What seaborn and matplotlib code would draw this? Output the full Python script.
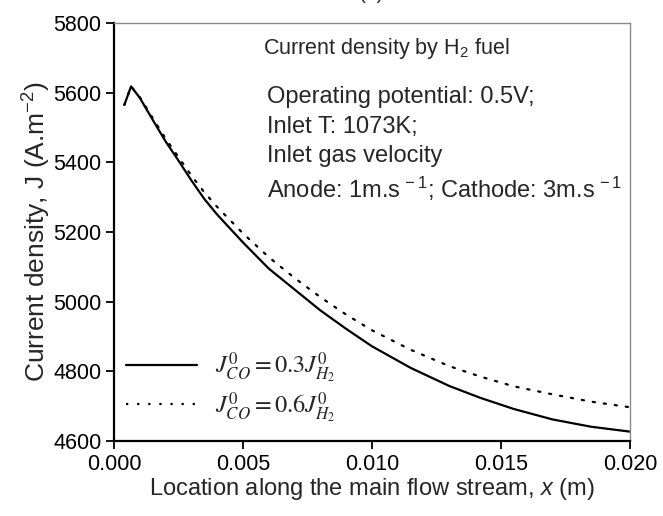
import matplotlib
matplotlib.use("Agg")
import matplotlib.pyplot as plt
from matplotlib.font_manager import FontProperties
import seaborn as sns
import pandas as pd

# Location along the main flow stream (m)
x_loc = [0.0004, 0.00066, 0.0010, 0.0015, 0.0020, 0.0025, 0.0030, 0.0035,
         0.0040, 0.0050, 0.0060, 0.0070, 0.0080, 0.0090, 0.0100, 0.0115,
         0.0130, 0.0142, 0.0155, 0.0170, 0.0185, 0.0200]

# Current density (A/m^2) for J0_CO = 0.3 J0_H2
j_03 = [5565, 5618, 5585, 5522, 5460, 5405, 5348, 5295,
        5250, 5170, 5095, 5035, 4975, 4922, 4872, 4810,
        4758, 4724, 4692, 4662, 4641, 4627]

# Current density (A/m^2) for J0_CO = 0.6 J0_H2
j_06 = [5565, 5618, 5587, 5527, 5468, 5415, 5362, 5314,
        5272, 5196, 5128, 5068, 5013, 4963, 4918, 4862,
        4815, 4785, 4757, 4734, 4713, 4697]

labels = [r"$J_{CO}^{0}=0.3J_{H_2}^{0}$", r"$J_{CO}^{0}=0.6J_{H_2}^{0}$"]

sns.set_style("ticks")
plt.rcParams["font.family"] = ["Liberation Sans", "DejaVu Sans"]
plt.rcParams["mathtext.fontset"] = "custom"
plt.rcParams["mathtext.rm"] = "Liberation Sans"
plt.rcParams["mathtext.it"] = "Liberation Sans:italic"
plt.rcParams["mathtext.bf"] = "Liberation Sans:bold"

df = pd.DataFrame({
    "x": x_loc * 2,
    "J": j_03 + j_06,
    "case": [labels[0]] * len(x_loc) + [labels[1]] * len(x_loc),
})

fig = plt.figure(figsize=(6.63, 5.16), dpi=100)
ax = fig.add_axes([0.172, 0.1453, 0.778, 0.8101])

sns.lineplot(data=df, x="x", y="J", hue="case", style="case",
             palette=["black", "black"],
             dashes={labels[0]: "", labels[1]: (1, 4)},
             linewidth=1.6, ax=ax, legend=True)
ax.lines[1].set_dash_capstyle("round")

ax.set_xlim(0, 0.02)
ax.set_ylim(4600, 5800)
ax.set_xticks([0.000, 0.005, 0.010, 0.015, 0.020])
ax.set_xticklabels(["0.000", "0.005", "0.010", "0.015", "0.020"])
ax.set_yticks(range(4600, 5801, 200))

ax.tick_params(axis="both", labelsize=15.5, length=6, width=1.3,
               direction="out", colors="black", pad=3)
ax.tick_params(top=False, right=False)
for side in ("left", "bottom"):
    ax.spines[side].set_linewidth(1.6)
    ax.spines[side].set_color("black")
for side in ("top", "right"):
    ax.spines[side].set_visible(True)
    ax.spines[side].set_linewidth(1.0)
    ax.spines[side].set_color("#8a8a8a")

ax.set_xlabel(r"Location along the main flow stream, $x$ (m)", fontsize=17,
              labelpad=1)
ax.set_ylabel(r"Current density, J (A.m$^{-2}$)", fontsize=19, labelpad=0)

# Operating-condition notes
ax.text(0.288, 0.94, r"Current density by H$_2$ fuel", transform=ax.transAxes,
        fontsize=15.5, va="center", ha="left")
notes = ["Operating potential: 0.5V;", "Inlet T: 1073K;", "Inlet gas velocity",
         r"Anode: 1m.s$^{\,-1}$; Cathode: 3m.s$^{\,-1}$"]
note_y = [0.822, 0.751, 0.681, 0.602]
for txt, yy in zip(notes, note_y):
    t = ax.text(0.297, yy, txt, transform=ax.transAxes, fontsize=17,
                va="center", ha="left")
    t.set_clip_on(False)

leg_font = FontProperties(family="DejaVu Serif", size=17.5, math_fontfamily="stix")
leg = ax.legend(loc="lower left", frameon=False, prop=leg_font,
                handlelength=2.9, handletextpad=0.75, labelspacing=0.2,
                borderaxespad=0.1, bbox_to_anchor=(0.0, 0.01))
for line in leg.get_lines():
    line.set_linewidth(1.6)

fig.text(0.561, 1.012, "(a)", fontsize=15, ha="center", va="center")

fig.savefig("out.png", dpi=100)
